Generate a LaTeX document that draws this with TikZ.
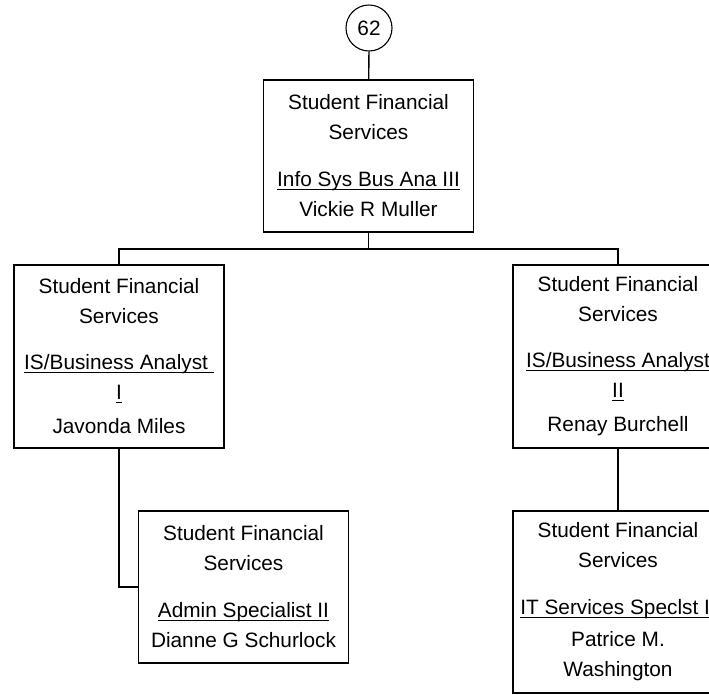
\documentclass[tikz,border=0pt]{standalone}
\usepackage{fontspec}
\setmainfont{Liberation Sans}
\usetikzlibrary{positioning}
% underline at a fixed depth below the baseline
\newcommand\uln[1]{\setbox0\hbox{#1}\rlap{\rule[-3pt]{\wd0}{1.3pt}}\box0}

\begin{document}
\begin{tikzpicture}[x=1pt, y=-1pt,
  font=\fontsize{20.8}{30}\selectfont,
  unit/.style={draw, line width=1.3pt, align=center, inner sep=0pt, minimum width=210pt},
  tag/.style={draw, circle, line width=1.1pt, minimum size=46pt, inner sep=0pt},
  link/.style={line width=1.3pt}
]
  \useasboundingbox (0,0) rectangle (709,694);
  \clip (0,0) rectangle (709,694);
  \node[tag] (pg) at (369,28) {62};
  \node[unit, minimum height=152pt] (sfs) at (368.5,156)
    {Student Financial\\Services\\[17pt]\uln{Info Sys Bus Ana III}\\Vickie R Muller};
  \node[unit, minimum height=183pt] (jm) at (119,356.5)
    {Student Financial\\Services\\[16pt]\uln{IS/Business Analyst\ }\\\uln{I}\\[4pt]Javonda Miles};
  \node[unit, minimum height=183pt] (rb) at (618,356.5)
    {Student Financial\\Services\\[16pt]\uln{IS/Business Analyst}\\\uln{II}\\[4pt]Renay Burchell};
  \node[unit, minimum height=152pt] (dgs) at (243.5,587)
    {Student Financial\\Services\\[17pt]\uln{Admin Specialist II}\\Dianne G Schurlock};
  \node[unit, minimum height=182pt] (pmw) at (618,602)
    {Student Financial\\Services\\[17pt]\uln{IT Services Speclst II}\\[2pt]Patrice M.\\Washington};
  % connectors
  \draw[link] (pg) -- (sfs);
  \coordinate (bus) at (368.5,249);
  \draw[link] (sfs.south) -- (bus) -| (jm.north);
  \draw[link] (bus) -| (rb.north);
  \draw[link] (jm.south) |- (dgs.west);
  \draw[link] (rb.south) -- (pmw.north);
\end{tikzpicture}
\end{document}
